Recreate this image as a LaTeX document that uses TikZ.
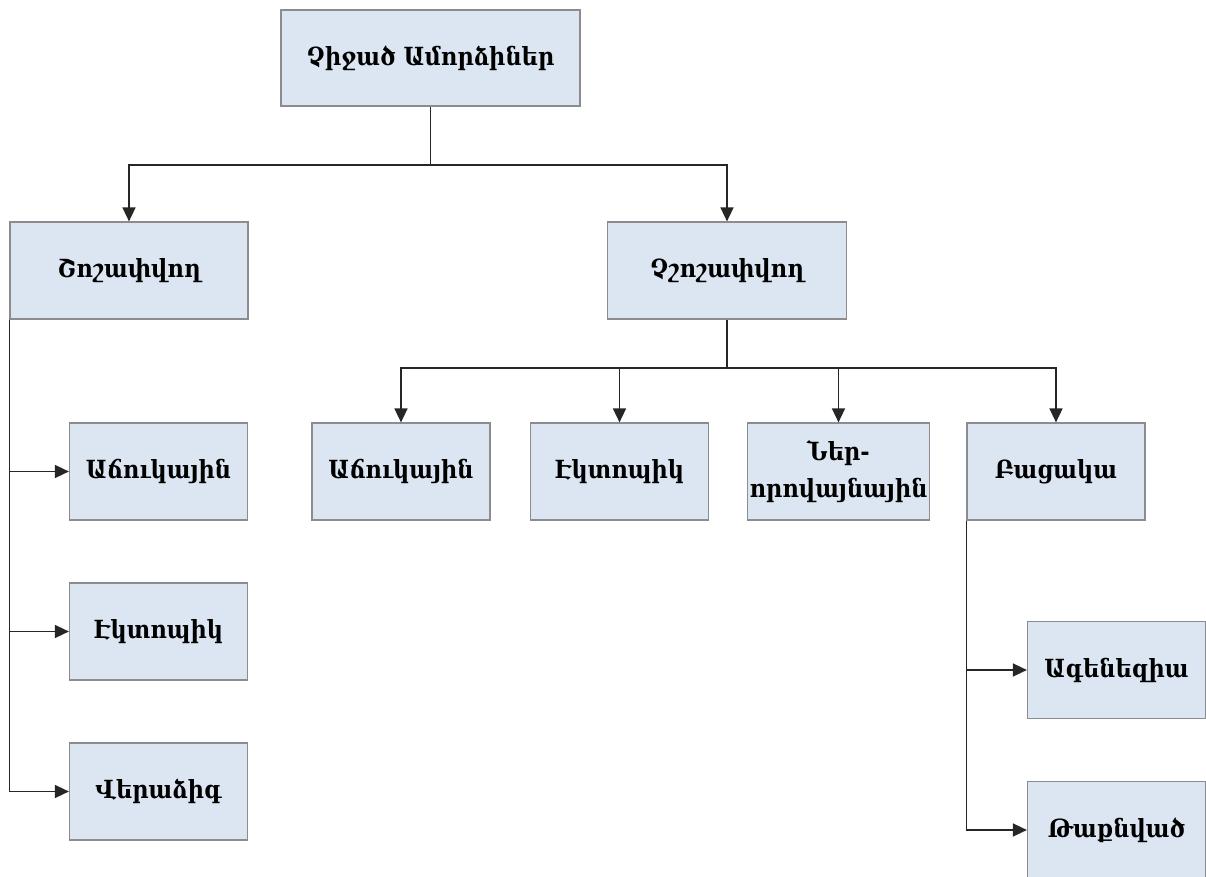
\documentclass[tikz,border=0pt]{standalone}
\usepackage{fontspec}
\setmainfont{DejaVu Serif Condensed}
\usetikzlibrary{positioning,arrows.meta}
\definecolor{boxfill}{HTML}{DCE6F2}
\definecolor{boxline}{HTML}{8C8C8C}

\begin{document}
\begin{tikzpicture}[x=0.5pt, y=-0.5pt,
    every node/.style={font=\fontsize{12.5}{18.5}\selectfont\bfseries},
    box/.style={draw=boxline, fill=boxfill, line width=0.6pt,
        minimum width=89pt, minimum height=48.5pt, inner sep=1pt, align=center},
    conn/.style={draw=black!85, line width=0.8pt},
    arr/.style={conn, -{Triangle[length=7pt,width=6.5pt]}}]
    \useasboundingbox (0,0) rectangle (1206,877);

    % Top level
    \node[box, minimum width=149.5pt, minimum height=48pt] (root) at (430.5,58) {Չիջած Ամորձիներ};
    \node[box, minimum width=119pt] (shosh) at (129,270.5) {Շոշափվող};
    \node[box, minimum width=119.5pt] (chshosh) at (727,270.5) {Չշոշափվող};
    \coordinate (bus1) at (430.5,165);
    \draw[conn] (root.south) -- (bus1);
    \draw[arr] (bus1) -| (shosh.north);
    \draw[arr] (bus1) -| (chshosh.north);

    % Palpable branch
    \foreach \n/\y/\t in {ach1/471.5/Աճուկային, ekt1/631.5/Էկտոպիկ, ver/791.5/Վերաձիգ} {
        \node[box] (\n) at (158.5,\y) {\t};
        \draw[arr] (shosh.south west) |- (\n.west);
    }

    % Non-palpable branch
    \node[box] (ach2) at (401,471.5) {Աճուկային};
    \node[box] (ekt2) at (619.5,471.5) {Էկտոպիկ};
    \node[box] (ner) at (838.5,471.5) {Ներ-\\որովայնային};
    \node[box] (bac) at (1056,471.5) {Բացակա};
    \coordinate (bus2) at (727,368);
    \draw[conn] (chshosh.south) -- (bus2);
    \foreach \n in {ach2,ekt2,ner,bac} {
        \draw[arr] (bus2) -| (\n.north);
    }

    % Absent branch
    \node[box] (agen) at (1116.5,670) {Ագենեզիա};
    \node[box] (taqn) at (1116.5,830) {Թաքնված};
    \draw[arr] (bac.south west) |- (agen.west);
    \draw[arr] (bac.south west) |- (taqn.west);
\end{tikzpicture}
\end{document}
